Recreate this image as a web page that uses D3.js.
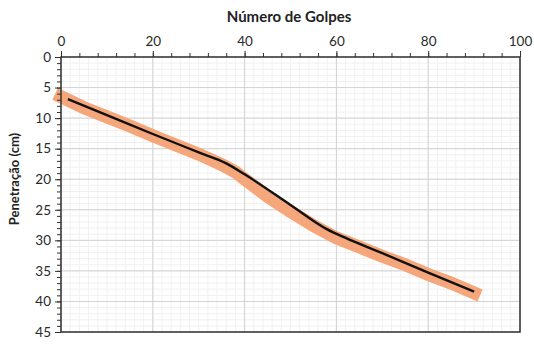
<!DOCTYPE html>
<html>
<head>
<meta charset="utf-8">
<script src="https://cdn.jsdelivr.net/npm/d3@7"></script>
<style>
  html, body { margin: 0; padding: 0; background: #fff; }
  svg { display: block; font-family: Lato, "Open Sans", sans-serif; }
</style>
</head>
<body>
<svg id="chart" width="534" height="345"></svg>
<script>
// Blow counts and measured penetration (cm) from the DCP test
const blows = [0, 5, 10, 15, 20, 25, 30, 35, 38, 40, 45, 50, 55, 60, 65, 70, 75, 80, 85, 90];
const penetration = [6.5, 8.3, 9.8, 11.3, 12.9, 14.4, 15.9, 17.6, 18.8, 20.0, 22.8, 25.3, 27.6, 29.6, 31.1, 32.6, 34.0, 35.6, 37.0, 38.6];

// Trend line through the measurements
const trendBlows = [1.5, 10, 20, 30, 36, 40, 50, 58, 62, 70, 80, 90];
const trendPen = [6.9, 9.5, 12.6, 15.6, 17.4, 19.2, 24.2, 28.2, 29.6, 32.1, 35.3, 38.4];

const xTicks = [0, 20, 40, 60, 80, 100];
const yTicks = [0, 5, 10, 15, 20, 25, 30, 35, 40, 45];

const svg = d3.select("#chart");
const m = { left: 61, top: 57, right: 520, bottom: 332 };

const x = d3.scaleLinear().domain([0, 100]).range([m.left, m.right]);
const y = d3.scaleLinear().domain([0, 45]).range([m.top, m.bottom]);

// Grid: faint minor lines, then major lines
const g = svg.append("g");
g.selectAll(".vmin").data(d3.range(0, 101, 2)).join("line")
  .attr("x1", d => x(d)).attr("x2", d => x(d))
  .attr("y1", m.top).attr("y2", m.bottom)
  .attr("stroke", "#f2f2f2").attr("stroke-width", 1);
g.selectAll(".hmin").data(d3.range(0, 46, 1)).join("line")
  .attr("x1", m.left).attr("x2", m.right)
  .attr("y1", d => y(d)).attr("y2", d => y(d))
  .attr("stroke", "#f0f0f0").attr("stroke-width", 1);
g.selectAll(".vmaj").data(xTicks).join("line")
  .attr("x1", d => x(d)).attr("x2", d => x(d))
  .attr("y1", m.top).attr("y2", m.bottom)
  .attr("stroke", "#d2d2d2").attr("stroke-width", 1);
g.selectAll(".hmaj").data(yTicks).join("line")
  .attr("x1", m.left).attr("x2", m.right)
  .attr("y1", d => y(d)).attr("y2", d => y(d))
  .attr("stroke", "#d2d2d2").attr("stroke-width", 1);

// Measured points as a wide band
const pts = blows.map((b, i) => [b, penetration[i]]);
const line = d3.line().x(d => x(d[0])).y(d => y(d[1]));
svg.append("path").datum(pts)
  .attr("d", line)
  .attr("fill", "none")
  .attr("stroke", "#f5a67b")
  .attr("stroke-width", 13)
  .attr("stroke-linejoin", "miter")
  .attr("stroke-linecap", "square");

// Trend line
const tpts = trendBlows.map((b, i) => [b, trendPen[i]]);
svg.append("path").datum(tpts)
  .attr("d", d3.line().x(d => x(d[0])).y(d => y(d[1])).curve(d3.curveMonotoneX))
  .attr("fill", "none")
  .attr("stroke", "#111")
  .attr("stroke-width", 2.4);

// Axes
const topAxis = d3.axisTop(x).tickValues(d3.range(0, 101, 4)).tickSize(4).tickFormat("");
svg.append("g").attr("transform", `translate(0,${m.top})`).call(topAxis)
  .call(s => s.select(".domain").remove())
  .selectAll("line").attr("stroke", "#333");
svg.append("g").attr("transform", `translate(0,${m.top})`)
  .call(d3.axisTop(x).tickValues(xTicks).tickSize(6).tickPadding(5))
  .call(s => s.select(".domain").remove())
  .call(s => s.selectAll("line").attr("stroke", "#333"))
  .call(s => s.selectAll("text").attr("font-size", 13.5).attr("fill", "#2a2a2a")
    .attr("font-family", "Lato, 'Open Sans', sans-serif"));

const leftMinor = d3.axisLeft(y).tickValues(d3.range(0, 46, 1)).tickSize(4).tickFormat("");
svg.append("g").attr("transform", `translate(${m.left},0)`).call(leftMinor)
  .call(s => s.select(".domain").remove())
  .selectAll("line").attr("stroke", "#333");
svg.append("g").attr("transform", `translate(${m.left},0)`)
  .call(d3.axisLeft(y).tickValues(yTicks).tickSize(6).tickPadding(4))
  .call(s => s.select(".domain").remove())
  .call(s => s.selectAll("line").attr("stroke", "#333"))
  .call(s => s.selectAll("text").attr("font-size", 13.5).attr("fill", "#2a2a2a")
    .attr("font-family", "Lato, 'Open Sans', sans-serif"));

// Plot border
svg.append("rect")
  .attr("x", m.left).attr("y", m.top)
  .attr("width", m.right - m.left).attr("height", m.bottom - m.top)
  .attr("fill", "none").attr("stroke", "#333").attr("stroke-width", 1.5);

// Axis titles
svg.append("text")
  .attr("x", 289).attr("y", 22)
  .attr("text-anchor", "middle")
  .attr("font-size", 15).attr("font-weight", "bold").attr("fill", "#222")
  .text("Número de Golpes");
svg.append("text")
  .attr("transform", "translate(19,179) rotate(-90)")
  .attr("text-anchor", "middle")
  .attr("font-size", 13).attr("font-weight", "bold").attr("fill", "#222")
  .text("Penetração (cm)");
</script>
</body>
</html>
